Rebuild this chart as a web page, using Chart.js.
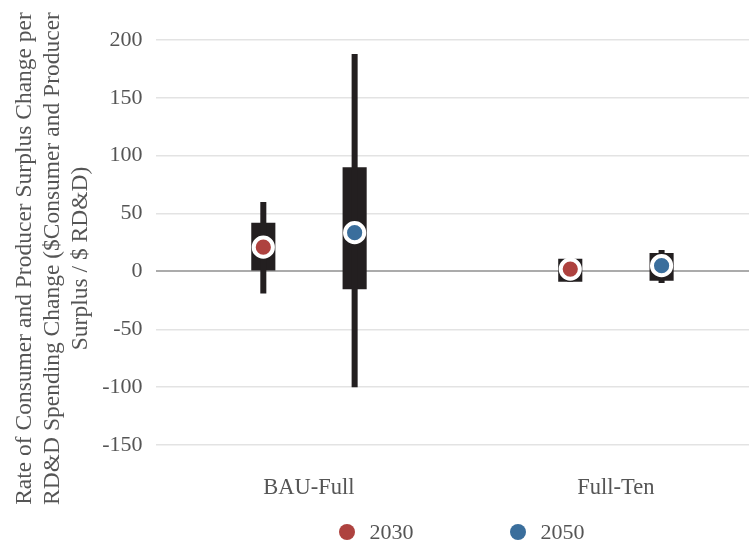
<!DOCTYPE html>
<html>
<head>
<meta charset="utf-8">
<script src="https://cdn.jsdelivr.net/npm/chart.js@4.4.1/dist/chart.umd.min.js"></script>
<style>
  html, body { margin: 0; padding: 0; background: #fff; overflow: hidden; }
  #wrap { position: relative; width: 783px; height: 544px; }
  #legend { position: absolute; left: 0; top: 519px; width: 783px; height: 26px;
            font-family: 'Liberation Serif', 'Times New Roman', serif; font-size: 22px; color: #555; }
  #legend .item { position: absolute; top: 0; line-height: 26px; white-space: nowrap; }
  #legend .dot { display: inline-block; width: 16px; height: 16px; border-radius: 50%;
                 vertical-align: -1px; margin-right: 14px; }
</style>
</head>
<body>
<div id="wrap">
  <canvas id="surplusChart" width="783" height="544"></canvas>
  <div id="legend"></div>
</div>
<script>
// categories and series
const scenarios = ['BAU-Full', 'Full-Ten'];
const years = ['2030', '2050'];
const central2030 = [21, 2];
const central2050 = [33.5, 5];
const whisker2030 = [[-19, 60], [-9, 11]];
const whisker2050 = [[-100, 188], [-10, 18.5]];
const box2030 = [[0, 42], [-9, 11]];
const box2050 = [[-15.5, 90], [-8, 16]];
const yTicks = [-150, -100, -50, 0, 50, 100, 150, 200];
const yTitle = ['Rate of Consumer and Producer Surplus Change per',
                'RD&D Spending Change ($Consumer and Producer',
                'Surplus / $ RD&D)'];

const RED = '#ae423f';
const BLUE = '#3a6e9c';
const INK = '#231f20';
const TEXT = '#555555';
const CAT_PCT = 0.595;
const FONT = "'Liberation Serif', 'Times New Roman', serif";

// each scenario sits at x = its index; each year gets half of the group width
const slotOffset = CAT_PCT / 4;
const toBars = (ranges) => ranges.map((r, i) => ({ x: i, y: r }));
const toPoints = (vals, side) => vals.map((v, i) => ({ x: i + side * slotOffset, y: v }));

const barSet = (ranges, stack, pct) => ({
    type: 'bar',
    data: toBars(ranges),
    stack: stack,
    backgroundColor: INK,
    borderWidth: 0,
    categoryPercentage: CAT_PCT,
    barPercentage: pct,
    order: 1
});

const pointSet = (label, vals, side, color) => ({
    type: 'scatter',
    label: label,
    data: toPoints(vals, side),
    backgroundColor: color,
    borderColor: color,
    pointBackgroundColor: color,
    pointBorderColor: '#ffffff',
    pointBorderWidth: 4,
    pointRadius: 9.6,
    pointHoverRadius: 9.6,
    order: 0
});

// rotated y-axis title, centred a little below the plot centre like the original
const yTitlePlugin = {
    id: 'yTitle',
    afterDraw(chart) {
        const ctx = chart.ctx;
        const midY = (chart.chartArea.top + chart.chartArea.bottom) / 2 + 16;
        ctx.save();
        ctx.fillStyle = TEXT;
        ctx.font = '23.5px ' + FONT;
        ctx.textAlign = 'center';
        ctx.textBaseline = 'middle';
        yTitle.forEach((line, i) => {
            ctx.save();
            ctx.translate(24.5 + i * 28, midY);
            ctx.rotate(-Math.PI / 2);
            ctx.fillText(line, 0, 0);
            ctx.restore();
        });
        ctx.restore();
    }
};

// html legend built from the point datasets
const htmlLegend = {
    id: 'htmlLegend',
    afterUpdate(chart) {
        const box = document.getElementById('legend');
        box.innerHTML = '';
        const area = chart.chartArea;
        const mid = (area.left + area.right) / 2;
        const pts = chart.data.datasets.filter(ds => ds.type === 'scatter');
        const gap = 171;
        pts.forEach((ds, i) => {
            const item = document.createElement('span');
            item.className = 'item';
            item.style.left = (mid - 123 + i * gap) + 'px';
            const dot = document.createElement('span');
            dot.className = 'dot';
            dot.style.background = ds.backgroundColor;
            item.appendChild(dot);
            item.appendChild(document.createTextNode(ds.label));
            box.appendChild(item);
        });
    }
};

new Chart(document.getElementById('surplusChart'), {
    data: {
        datasets: [
            barSet(whisker2030, 'a', 0.066),
            barSet(box2030, 'a', 0.264),
            barSet(whisker2050, 'b', 0.066),
            barSet(box2050, 'b', 0.264),
            pointSet(years[0], central2030, -1, RED),
            pointSet(years[1], central2050, 1, BLUE)
        ]
    },
    plugins: [yTitlePlugin, htmlLegend],
    options: {
        responsive: false,
        animation: false,
        layout: { padding: { top: 40, right: 0, bottom: 37, left: 0 } },
        plugins: {
            tooltip: { enabled: false },
            legend: { display: false }
        },
        scales: {
            x: {
                type: 'linear',
                stacked: true,
                offset: false,
                min: -0.5,
                max: scenarios.length - 0.5,
                afterBuildTicks: (scale) => { scale.ticks = scenarios.map((s, i) => ({ value: i })); },
                afterFit: (scale) => {
                    scale.height = 62;
                    scale.paddingLeft = 0;
                    scale.paddingRight = 0;
                },
                grid: { display: false, drawTicks: false },
                border: { display: false },
                ticks: {
                    color: TEXT,
                    font: { family: FONT, size: 22.5 },
                    padding: 30,
                    maxRotation: 0,
                    callback: (v) => scenarios[v]
                }
            },
            y: {
                stacked: false,
                min: yTicks[0],
                max: yTicks[yTicks.length - 1],
                afterBuildTicks: (scale) => { scale.ticks = yTicks.map(v => ({ value: v })); },
                afterFit: (scale) => { scale.width = 155.5; },
                grid: {
                    drawTicks: false,
                    color: (ctx) => ctx.tick && ctx.tick.value === 0 ? '#ababab' : '#e3e3e3',
                    lineWidth: (ctx) => ctx.tick && ctx.tick.value === 0 ? 2 : 1.5
                },
                border: { display: false },
                ticks: { color: TEXT, font: { family: FONT, size: 22 }, padding: 13 }
            }
        }
    }
});
</script>
</body>
</html>
